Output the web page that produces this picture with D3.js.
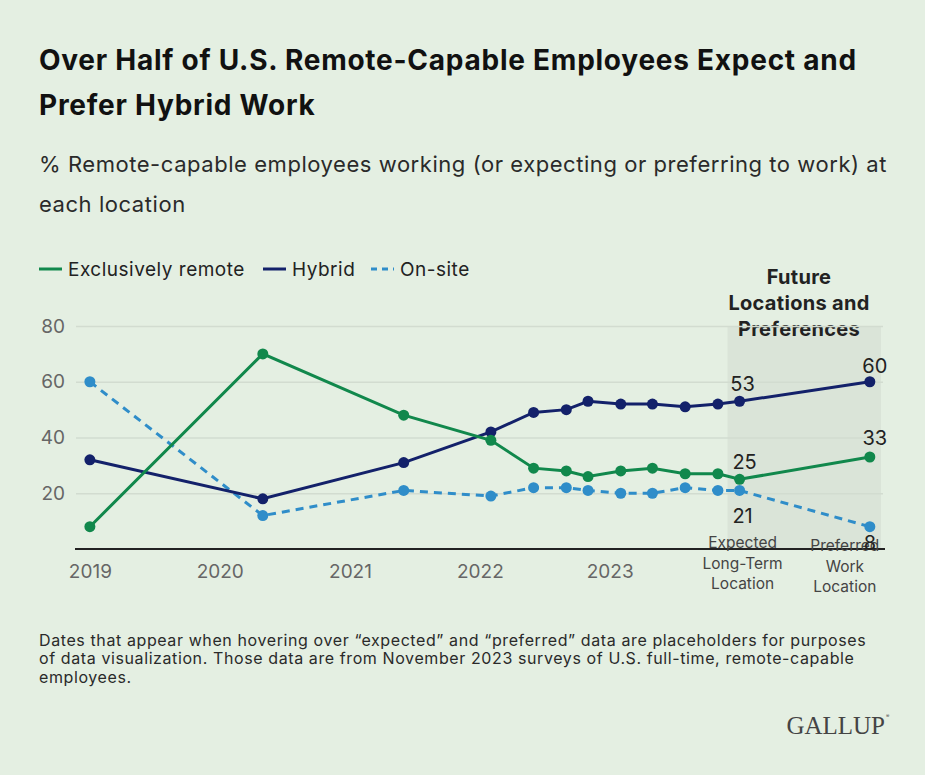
<!DOCTYPE html>
<html>
<head>
<meta charset="utf-8">
<script src="https://cdn.jsdelivr.net/npm/d3@7"></script>
<style>
  html, body { margin: 0; padding: 0; background: #e4efe2; }
  svg { display: block; font-family: Inter, 'Noto Sans', sans-serif; }
</style>
</head>
<body>
<svg id="chart" width="925" height="775"></svg>
<script>
// survey dates (the last two are placeholders for expected / preferred)
const dates = ['2019-01-01', '2020-05-01', '2021-06-01', '2022-02-01', '2022-06-01', '2022-09-01',
    '2022-11-01', '2023-02-01', '2023-05-01', '2023-08-01', '2023-11-01', '2024-01-01', '2025-01-01']
const remote = [8, 70, 48, 39, 29, 28, 26, 28, 29, 27, 27, 25, 33]
const hybrid = [32, 18, 31, 42, 49, 50, 53, 52, 52, 51, 52, 53, 60]
const onsite = [60, 12, 21, 19, 22, 22, 21, 20, 20, 22, 21, 21, 8]
const yTicks = [20, 40, 60, 80]
const yearTicks = ['2019', '2020', '2021', '2022', '2023']
const futureLabels = [['Expected', 'Long-Term', 'Location'], ['Preferred', 'Work', 'Location']]
const shadeStart = '2023-11-28'

const parse = d3.timeParse('%Y-%m-%d')

const series = [
    { key: 'Exclusively remote', values: remote, color: '#11884c', dash: null },
    { key: 'Hybrid', values: hybrid, color: '#13216a', dash: null },
    { key: 'On-site', values: onsite, color: '#2f8dc9', dash: '8,6' }
]

const svg = d3.select('#chart')
const margin = { left: 76, right: 42, top: 326, bottom: 226 }
const width = 925
const height = 775

const xScale = d3.scaleTime()
    .domain([parse('2018-11-23'), parse('2025-02-07')])
    .range([margin.left, width - margin.right])

const yScale = d3.scaleLinear()
    .domain([0, 80])
    .range([height - margin.bottom, margin.top])

// title + subtitle
const title = svg.append('g').attr('fill', '#111')
    .style('font-weight', 700).style('font-size', '28px').style('letter-spacing', '0.75px')
title.append('text').attr('x', 39).attr('y', 70).text('Over Half of U.S. Remote-Capable Employees Expect and')
title.append('text').attr('x', 39).attr('y', 115).text('Prefer Hybrid Work')

const sub = svg.append('g').attr('fill', '#2a2a2a')
    .style('font-size', '22px').style('letter-spacing', '0.55px')
sub.append('text').attr('x', 39).attr('y', 172).text('% Remote-capable employees working (or expecting or preferring to work) at')
sub.append('text').attr('x', 39).attr('y', 212).text('each location')

// legend
const legendPos = [39, 263, 371]
const legend = svg.append('g').selectAll('g')
    .data(series)
    .join('g')
    .attr('transform', (d, i) => `translate(${legendPos[i]},269)`)
legend.append('line')
    .attr('x1', 0).attr('x2', 23)
    .attr('stroke', d => d.color)
    .attr('stroke-width', 3)
    .attr('stroke-dasharray', d => d.dash ? '6,5' : null)
legend.append('text')
    .attr('x', 29).attr('dy', '0.35em')
    .attr('fill', '#222')
    .style('font-size', '19px')
    .style('letter-spacing', '0.5px')
    .text(d => d.key)

// shaded future band
svg.append('rect')
    .attr('x', xScale(parse(shadeStart)))
    .attr('y', yScale(80))
    .attr('width', xScale.range()[1] - 2 - xScale(parse(shadeStart)))
    .attr('height', yScale(0) - yScale(80))
    .attr('fill', '#dae4d8')

const future = svg.append('text')
    .attr('text-anchor', 'middle')
    .attr('fill', '#222')
    .style('font-weight', 700)
    .style('font-size', '20px')
    .style('letter-spacing', '0.3px')
future.selectAll('tspan')
    .data(['Future', 'Locations and', 'Preferences'])
    .join('tspan')
    .attr('x', 799)
    .attr('y', (d, i) => 284 + i * 26)
    .text(d => d)

// y grid + labels
const yAxis = svg.append('g')
    .attr('transform', `translate(${margin.left},0)`)
    .call(d3.axisLeft(yScale).tickValues(yTicks).tickSize(-(width - margin.left - margin.right)).tickPadding(11))
yAxis.select('.domain').remove()
yAxis.selectAll('.tick line').attr('stroke', '#d2dcd0').attr('stroke-width', 1.5)
yAxis.selectAll('.tick text').attr('fill', '#666').style('font-size', '19px').style('font-family', 'Inter, sans-serif')

// x axis
const xAxis = svg.append('g')
    .attr('transform', `translate(0,${yScale(0)})`)
    .call(d3.axisBottom(xScale).tickValues(yearTicks.map(y => parse(y + '-01-01'))).tickFormat(d3.timeFormat('%Y')).tickSize(0).tickPadding(16))
xAxis.select('.domain').attr('stroke', '#222').attr('stroke-width', 2).attr('d', `M${margin.left - 1},0H${width - margin.right + 2}`)
xAxis.selectAll('.tick text').attr('fill', '#666').style('font-size', '19px').style('font-family', 'Inter, sans-serif')

// future category labels under the axis
const catDates = dates.slice(-2)
const catOffsets = [3, -25]
futureLabels.forEach((lines, i) => {
    svg.append('text')
        .attr('text-anchor', 'middle')
        .attr('fill', '#444')
        .style('font-size', '15.5px')
        .selectAll('tspan')
        .data(lines)
        .join('tspan')
        .attr('x', xScale(parse(catDates[i])) + catOffsets[i])
        .attr('y', (d, j) => 548 + (i === 1 ? 3 : 0) + j * 20.5)
        .text(d => d)
})

// lines + dots
const line = d3.line()
    .x((d, i) => xScale(parse(dates[i])))
    .y(d => yScale(d))

const plot = svg.append('g')
plot.selectAll('path.series')
    .data(series.slice().reverse())
    .join('path')
    .classed('series', true)
    .attr('d', d => line(d.values))
    .attr('fill', 'none')
    .attr('stroke', d => d.color)
    .attr('stroke-width', 3)
    .attr('stroke-dasharray', d => d.dash)

plot.selectAll('g.dots')
    .data(series.slice().reverse())
    .join('g')
    .classed('dots', true)
    .attr('fill', d => d.color)
    .call(g => {
        g.selectAll('circle')
            .data(d => d.values)
            .join('circle')
            .attr('r', 5.5)
            .attr('cx', (d, i) => xScale(parse(dates[i])))
            .attr('cy', d => yScale(d))
    })

// value labels for expected / preferred
const n = dates.length
const valueLabels = [
    { v: hybrid[n - 2], i: n - 2, dx: 3, dy: -17 },
    { v: hybrid[n - 1], i: n - 1, dx: 5, dy: -16 },
    { v: remote[n - 2], i: n - 2, dx: 5, dy: -17 },
    { v: remote[n - 1], i: n - 1, dx: 5, dy: -19 },
    { v: onsite[n - 2], i: n - 2, dx: 3, dy: 26 },
    { v: onsite[n - 1], i: n - 1, dx: 0, dy: 16 }
]
svg.append('g')
    .attr('text-anchor', 'middle')
    .attr('fill', '#222')
    .style('font-size', '20px')
    .selectAll('text')
    .data(valueLabels)
    .join('text')
    .attr('x', d => xScale(parse(dates[d.i])) + d.dx)
    .attr('y', d => yScale(d.v) + d.dy)
    .attr('dy', '0.35em')
    .text(d => d.v)

// footnote
svg.append('text')
    .attr('fill', '#2a2a2a')
    .style('font-size', '16px')
    .style('letter-spacing', '0.6px')
    .selectAll('tspan')
    .data([
        'Dates that appear when hovering over \u201cexpected\u201d and \u201cpreferred\u201d data are placeholders for purposes',
        'of data visualization. Those data are from November 2023 surveys of U.S. full-time, remote-capable',
        'employees.'
    ])
    .join('tspan')
    .attr('x', 39)
    .attr('y', (d, i) => 646 + i * 18.3)
    .text(d => d)

svg.append('text')
    .attr('x', 885)
    .attr('y', 734)
    .attr('text-anchor', 'end')
    .attr('fill', '#444')
    .style('font-family', "'Liberation Serif', serif")
    .style('font-size', '25px')
    .text('GALLUP')
svg.append('text')
    .attr('x', 886).attr('y', 718)
    .attr('fill', '#444')
    .style('font-size', '5px')
    .text('\u00ae')
</script>
</body>
</html>
